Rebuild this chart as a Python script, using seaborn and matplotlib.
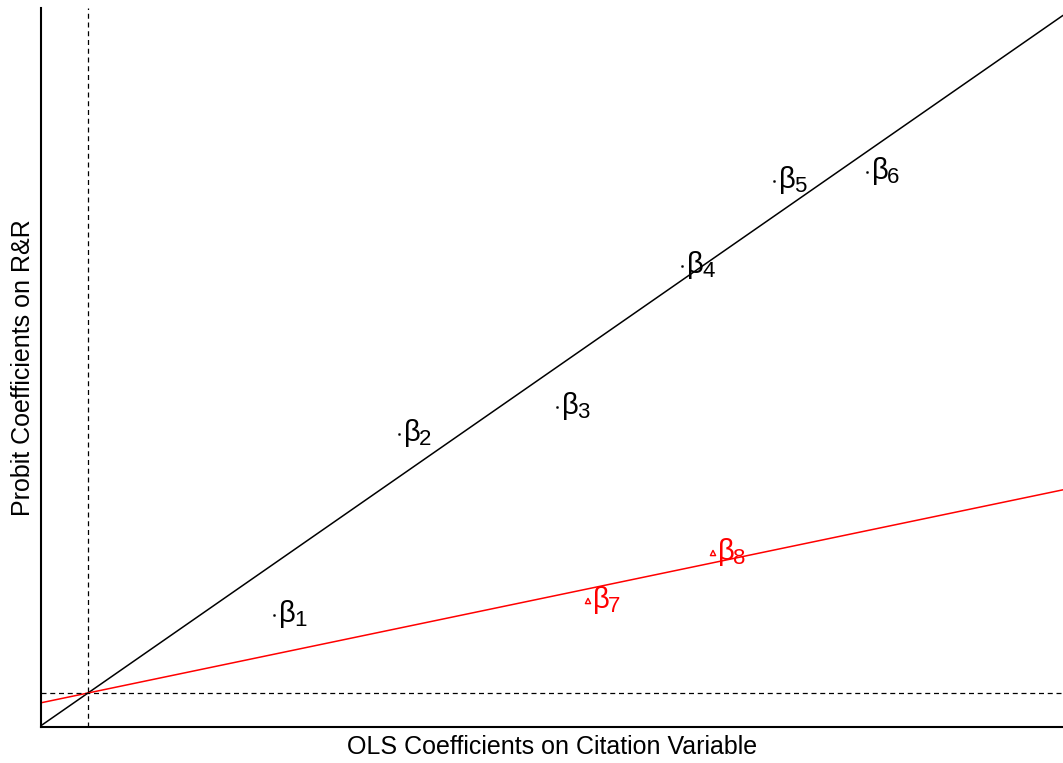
import numpy as np
import pandas as pd
import seaborn as sns
import matplotlib.pyplot as plt

# coefficient estimates (OLS on citations vs probit on R&R)
labels = ['1', '2', '3', '4', '5', '6', '7', '8']
ols_coef = [1.86, 3.11, 4.69, 5.94, 6.86, 7.79, 5.00, 6.25]
probit_coef = [0.78, 2.59, 2.86, 4.27, 5.12, 5.21, 0.92, 1.40]
group = ['a', 'a', 'a', 'a', 'a', 'a', 'b', 'b']

# fitted proportionality lines through the origin
slope_black = 0.695
slope_red = 0.2084

x_lim = (-0.47, 9.75)
y_lim = (-0.34, 6.85)

sns.set_style('white')
plt.rcParams['font.family'] = ['Liberation Sans', 'DejaVu Sans']

fig = plt.figure(figsize=(10.63, 7.63), dpi=100)
ax = fig.add_axes([41 / 1063, 36 / 763, 1 - 41 / 1063, (727 - 8) / 763])

df = pd.DataFrame({'x': ols_coef, 'y': probit_coef, 'g': group, 'lab': labels})

xs = np.array(x_lim)
sns.lineplot(x=xs, y=slope_black * xs, color='black', lw=1.1, ax=ax)
sns.lineplot(x=xs, y=slope_red * xs, color='red', lw=1.1, ax=ax)

ax.axvline(0, color='black', ls='--', lw=0.9, dashes=(4, 3))
ax.axhline(0, color='black', ls='--', lw=0.9, dashes=(4, 3))

blk = df[df.g == 'a']
red = df[df.g == 'b']
sns.scatterplot(data=blk, x='x', y='y', marker='o', s=3, color='black',
                edgecolor='black', ax=ax, zorder=3)
sns.scatterplot(data=red, x='x', y='y', marker='^', s=14, facecolor='none',
                edgecolor='red', linewidth=1.0, ax=ax, zorder=3)

# beta with a subscript drawn as two pieces (R plotmath style, big subscript)
for _, r in df.iterrows():
    c = 'black' if r.g == 'a' else 'red'
    ax.annotate('\u03b2', (r.x, r.y), xytext=(3.5, 1),
                textcoords='offset points', ha='left', va='center',
                fontsize=21, color=c)
    ax.annotate(r.lab, (r.x, r.y), xytext=(14.5, -4),
                textcoords='offset points', ha='left', va='center',
                fontsize=16, color=c)

ax.set_xlim(x_lim)
ax.set_ylim(y_lim)
ax.set_xticks([])
ax.set_yticks([])
sns.despine(ax=ax)
for s in ['left', 'bottom']:
    ax.spines[s].set_color('black')
    ax.spines[s].set_linewidth(1.5)

ax.set_xlabel('OLS Coefficients on Citation Variable', fontsize=18,
              color='black', labelpad=6)
ax.set_ylabel('Probit Coefficients on R&R', fontsize=18,
              color='black', labelpad=4)

fig.savefig('out.png', dpi=100)
